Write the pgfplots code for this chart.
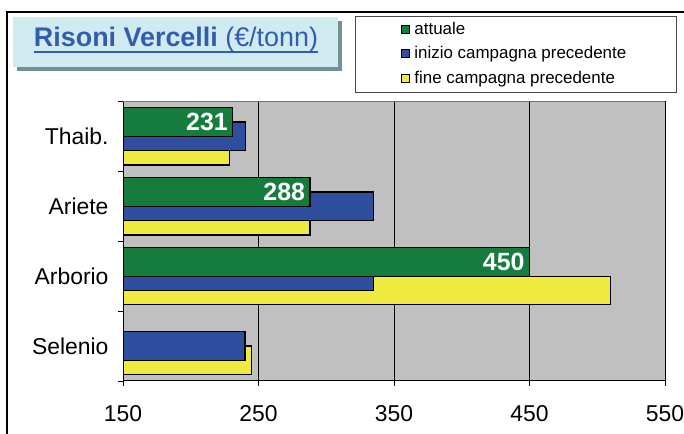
\documentclass[border=0pt]{standalone}
\usepackage{pgfplots}
\pgfplotsset{compat=1.18}
\usepackage{fontspec}
\setmainfont{Liberation Sans}
\definecolor{cgreen}{RGB}{22,124,62}
\definecolor{cblue}{RGB}{46,78,160}
\definecolor{cyellow}{RGB}{238,234,64}
\definecolor{plotgray}{RGB}{192,192,192}
\definecolor{titlebox}{RGB}{207,235,240}
\definecolor{shadowc}{RGB}{112,146,146}
\definecolor{titleblue}{RGB}{52,92,172}
\definecolor{legframe}{RGB}{70,70,70}
\begin{document}
\begin{tikzpicture}[x=1bp,y=1bp]
\path[use as bounding box] (0,0) rectangle (684,434);
\fill[white] (0,0) rectangle (684,434);
\draw[line width=1.3bp] (7,-5) -- (7,422) -- (700,422);
\fill[shadowc] (17,363) rectangle (342,413);
\fill[titlebox] (13,367) rectangle (338,417);
\node[anchor=base, inner sep=0pt, text=titleblue, font=\fontsize{27}{31}\selectfont] (T) at (176,387) {\textbf{Risoni Vercelli} (€/tonn)};
\draw[titleblue, line width=2.4bp] ([yshift=-5bp]T.base west) -- ([yshift=-5bp]T.base east);
\begin{axis}[
  at={(123bp,53bp)}, anchor=south west,
  scale only axis, width=542bp, height=279.5bp,
  xbar, xmin=150, xmax=550, ymin=-0.5, ymax=3.5,
  bar width=0.41,
  xtick={150,250,350,450,550},
  ytick={0,1,2,3},
  yticklabels={Selenio,Arborio,Ariete,Thaib.},
  minor ytick={-0.5,0.5,1.5,2.5,3.5},
  major y tick style={draw=none},
  minor y tick style={black, line width=0.8bp},
  major x tick style={black, line width=0.8bp},
  tick align=outside,
  major tick length=5bp, minor tick length=5bp,
  xmajorgrids, major grid style={black, line width=0.8bp},
  axis x line*=bottom, axis y line*=left,
  axis line style={black, line width=1bp},
  ticklabel style={font=\fontsize{23}{27}\selectfont},
  xticklabel style={yshift=-16bp},
  yticklabel style={xshift=-6bp},
  /pgf/number format/assume math mode=true,
  axis background/.style={fill=plotgray},
  reverse legend,
  legend cell align=left,
  legend image code/.code={\draw[#1, draw=black, line width=0.8bp] (3bp,-3bp) rectangle (11bp,5bp);},
  legend style={at={(0.428,1.306)}, anchor=north west, draw=legframe, line width=0.8bp,
    inner xsep=46bp, inner ysep=1.5bp, row sep=0pt,
    font=\fontsize{17}{20}\selectfont,
    nodes={inner sep=4.25bp, text height=12bp, text depth=4bp}},
]
\addplot[fill=cyellow, draw=black, line width=1.3bp, bar shift=-0.205] coordinates {(228.5,3) (288,2) (510,1) (245,0)};
\addlegendentry{fine campagna precedente}
\addplot[fill=cblue, draw=black, line width=1.3bp, bar shift=0] coordinates {(240.5,3) (335,2) (335,1) (240,0)};
\addlegendentry{inizio campagna precedente}
\addplot[fill=cgreen, draw=black, line width=1.3bp, bar shift=0.205, point meta=x,
  nodes near coords,
  every node near coord/.style={anchor=east, text=white, xshift=-1bp, yshift=14.3bp, font=\bfseries\fontsize{25}{28}\selectfont}] coordinates {(231,3) (288,2) (450,1)};
\addlegendentry{attuale}
\draw[black!55, line width=1.5bp] (rel axis cs:0,1) -- (rel axis cs:1,1);
\end{axis}
\end{tikzpicture}
\end{document}
